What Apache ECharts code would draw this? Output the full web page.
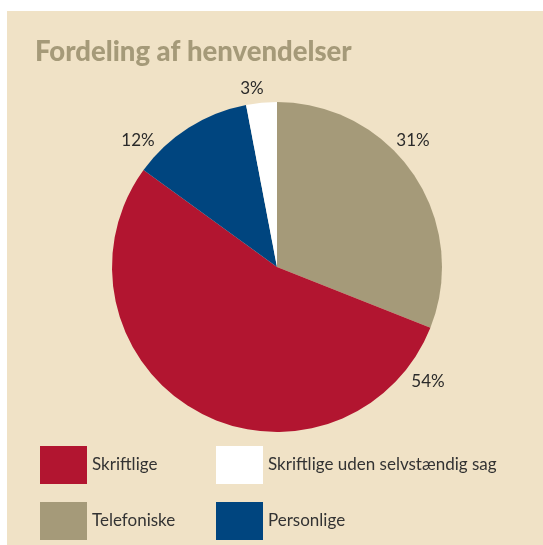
<!DOCTYPE html>
<html>
<head>
    <meta charset="UTF-8">
    <title>Fordeling af henvendelser</title>
    <script type="text/javascript" src="https://cdn.jsdelivr.net/npm/echarts@6/dist/echarts.min.js"></script>
    <style>
        body { margin: 0; background: #ffffff; }
        #box { position: absolute; left: 7px; top: 11px; width: 536px; height: 534px; background: #f0e2c6; }
        #chart { position: absolute; left: 0; top: 0; width: 543px; height: 545px; }
    </style>
</head>
<body>
  <div id="box"></div>
  <div id="chart"></div>
  <script>
    // data, clockwise from 12 o'clock
    var categories = ['Telefoniske', 'Skriftlige', 'Personlige', 'Skriftlige uden selvstændig sag'];
    var values = [31, 54, 12, 3];
    var colors = ['#a59a79', '#b21530', '#00457f', '#ffffff'];
    var labels = ['31%', '54%', '12%', '3%'];

    // where each label sits (centre of text)
    var labelPos = [[413, 141], [428, 382], [138, 141], [252, 89]];
    // legend order: row 1 then row 2
    var legendOrder = ['Skriftlige', 'Skriftlige uden selvstændig sag', 'Telefoniske', 'Personlige'];
    var legendPos = [[40, 446], [216, 446], [40, 502], [216, 502]];

    var pieData = categories.map(function (c, i) {
        return { name: c, value: values[i], itemStyle: { color: colors[i] } };
    });

    var legends = legendOrder.map(function (name, i) {
        return {
            data: [name],
            left: legendPos[i][0],
            top: legendPos[i][1],
            itemWidth: 47,
            itemHeight: 38,
            itemGap: 0,
            padding: 0,
            icon: 'rect',
            selectedMode: false,
            textStyle: { fontFamily: 'Lato', fontSize: 17, color: '#333333', padding: [0, 0, 0, 0] }
        };
    });

    var chart = echarts.init(document.getElementById('chart'), null, {renderer: 'canvas'});
    chart.setOption({
        backgroundColor: 'transparent',
        animation: false,
        title: {
            text: 'Fordeling af henvendelser',
            left: 35,
            top: 38,
            padding: 0,
            textStyle: { fontFamily: 'Lato', fontWeight: 900, fontSize: 27.5, color: '#a59a79' }
        },
        legend: legends,
        series: [{
            type: 'pie',
            center: [277, 267],
            radius: [0, 165],
            startAngle: 90,
            clockwise: true,
            silent: true,
            data: pieData,
            label: {
                show: true,
                position: 'outside',
                formatter: function (p) { return labels[p.dataIndex]; },
                fontFamily: 'Lato',
                fontSize: 17,
                color: '#2a2a2a'
            },
            labelLine: { show: false },
            labelLayout: function (p) {
                var pos = labelPos[p.dataIndex];
                return { x: pos[0], y: pos[1], align: 'center', verticalAlign: 'middle' };
            }
        }]
    });
  </script>
</body>
</html>
